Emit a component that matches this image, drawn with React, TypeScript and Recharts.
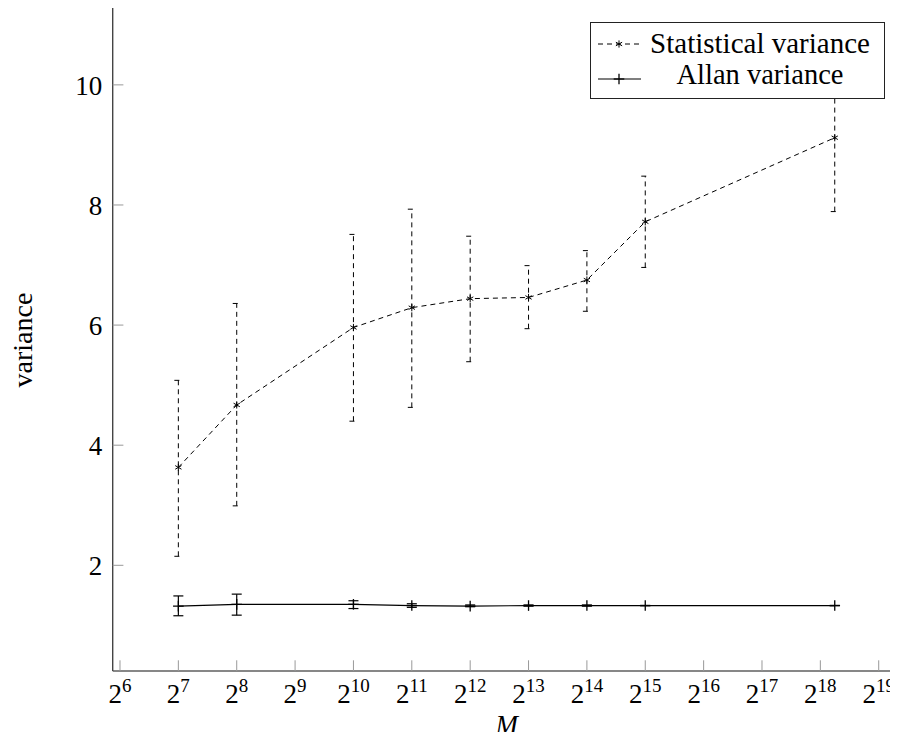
import React from 'react';
import { LineChart, Line, XAxis, YAxis, ErrorBar, Legend } from 'recharts';

const FONT = "'Liberation Serif', 'Times New Roman', serif";

// block sizes M (last run is not a power of two)
const mValues = [128, 256, 1024, 2048, 4096, 8192, 16384, 32768, 311000];

const statMean = [3.63, 4.67, 5.96, 6.29, 6.44, 6.46, 6.75, 7.72, 9.12];
const statLow = [2.15, 2.99, 4.4, 4.63, 5.39, 5.94, 6.23, 6.96, 7.89];
const statHigh = [5.08, 6.36, 7.51, 7.93, 7.48, 6.99, 7.24, 8.48, 10.36];

const allanMean = [1.32, 1.35, 1.35, 1.33, 1.32, 1.33, 1.33, 1.33, 1.33];
const allanLow = [1.16, 1.17, 1.28, 1.3, 1.31, 1.32, 1.32, 1.33, 1.33];
const allanHigh = [1.49, 1.52, 1.41, 1.36, 1.34, 1.34, 1.34, 1.33, 1.33];

const xTicks = [64, 128, 256, 512, 1024, 2048, 4096, 8192, 16384, 32768, 65536, 131072, 262144, 524288];
const yTicks = [2, 4, 6, 8, 10];

const data = mValues.map((m, i) => ({
  m,
  stat: statMean[i],
  statErr: [statMean[i] - statLow[i], statHigh[i] - statMean[i]],
  allan: allanMean[i],
  allanErr: [allanMean[i] - allanLow[i], allanHigh[i] - allanMean[i]],
}));

const X_DOMAIN = [Math.pow(2, 5.875), Math.pow(2, 19.375)];
const Y_DOMAIN = [0.24, 11.28];
const TICK_LEN = 10.7;
const TICK_COLOR = '#999';
const textStyle = { fontFamily: FONT };

function BottomTick({ x, y, payload }: any) {
  const exp = Math.round(Math.log2(payload.value));
  return (
    <g>
      <line x1={x} x2={x} y1={y} y2={y - TICK_LEN} stroke={TICK_COLOR} />
      <text x={x} y={y + 32.3} textAnchor="middle" style={textStyle} fontSize={27} fill="#000">
        2<tspan dy={-11} fontSize={19}>{exp}</tspan>
      </text>
    </g>
  );
}

function TopTick({ x, y }: any) {
  return <line x1={x} x2={x} y1={y} y2={y + TICK_LEN} stroke={TICK_COLOR} />;
}

function LeftTick({ x, y, payload }: any) {
  return (
    <g>
      <line x1={x} x2={x + TICK_LEN} y1={y} y2={y} stroke={TICK_COLOR} />
      <text x={x - 10.4} y={y + 9.7} textAnchor="end" style={textStyle} fontSize={27} fill="#000">
        {payload.value}
      </text>
    </g>
  );
}

function RightTick({ x, y }: any) {
  return <line x1={x} x2={x - TICK_LEN} y1={y} y2={y} stroke={TICK_COLOR} />;
}

function StarDot({ cx, cy }: any) {
  const r = 3.6;
  const dx = r * 0.87;
  const dy = r * 0.5;
  return (
    <g stroke="#000" strokeWidth={1}>
      <line x1={cx} x2={cx} y1={cy - r} y2={cy + r} />
      <line x1={cx - dx} x2={cx + dx} y1={cy - dy} y2={cy + dy} />
      <line x1={cx - dx} x2={cx + dx} y1={cy + dy} y2={cy - dy} />
    </g>
  );
}

function PlusDot({ cx, cy }: any) {
  const r = 5.3;
  return (
    <g stroke="#000" strokeWidth={1.3}>
      <line x1={cx - r} x2={cx + r} y1={cy} y2={cy} />
      <line x1={cx} x2={cx} y1={cy - r} y2={cy + r} />
    </g>
  );
}

function LegendBox() {
  return (
    <div
      style={{
        width: 295,
        height: 77,
        boxSizing: 'border-box',
        border: '1.3px solid #222',
        background: '#fff',
      }}
    >
      <svg width={292} height={74} style={{ display: 'block' }}>
        <line x1={7} x2={48} y1={21} y2={21} stroke="#000" strokeDasharray="5 4" />
        <StarDot cx={28} cy={21} />
        <text x={169} y={29.5} textAnchor="middle" style={textStyle} fontSize={29}>
          Statistical variance
        </text>
        <line x1={7} x2={50} y1={56} y2={56} stroke="#000" strokeWidth={1.2} />
        <PlusDot cx={28} cy={56} />
        <text x={169} y={61} textAnchor="middle" style={textStyle} fontSize={28.5}>
          Allan variance
        </text>
      </svg>
    </div>
  );
}

export default function App() {
  return (
    <div style={{ position: 'relative', width: 890, height: 724, fontFamily: FONT }}>
      {/* the plot's right edge runs just past the page edge, as in the source figure */}
      <LineChart
        width={890}
        height={724}
        data={data}
        margin={{ top: 0, right: -2.6, bottom: 1, left: 44.7 }}
      >
        <XAxis
          dataKey="m"
          type="number"
          scale="log"
          domain={X_DOMAIN}
          allowDataOverflow
          ticks={xTicks}
          interval={0}
          height={60}
          tickSize={0}
          tickMargin={0}
          tick={<BottomTick />}
          axisLine={{ stroke: '#111', strokeWidth: 1.2 }}
        />
        <XAxis
          xAxisId="top"
          orientation="top"
          dataKey="m"
          type="number"
          scale="log"
          domain={X_DOMAIN}
          allowDataOverflow
          ticks={xTicks}
          interval={0}
          height={0}
          tickSize={0}
          tickMargin={0}
          tick={<TopTick />}
          axisLine={{ stroke: '#111', strokeWidth: 1.2 }}
        />
        <YAxis
          type="number"
          domain={Y_DOMAIN}
          allowDataOverflow
          ticks={yTicks}
          interval={0}
          width={60}
          tickSize={0}
          tickMargin={0}
          tick={<LeftTick />}
          axisLine={{ stroke: '#444', strokeWidth: 1.4 }}
        />
        <YAxis
          yAxisId="right"
          orientation="right"
          type="number"
          domain={Y_DOMAIN}
          allowDataOverflow
          ticks={yTicks}
          interval={0}
          width={0}
          tickSize={0}
          tickMargin={0}
          tick={<RightTick />}
          axisLine={{ stroke: '#111' }}
        />
        <Line
          dataKey="stat"
          type="linear"
          stroke="#000"
          strokeWidth={1}
          strokeDasharray="5 4"
          dot={(p: any) => <StarDot key={`s${p.index}`} cx={p.cx} cy={p.cy} />}
          activeDot={false}
          isAnimationActive={false}
        >
          <ErrorBar
            dataKey="statErr"
            direction="y"
            width={4}
            stroke="#000"
            strokeWidth={1}
            strokeDasharray="5 4"
            isAnimationActive={false}
          />
        </Line>
        <Line
          dataKey="allan"
          type="linear"
          stroke="#000"
          strokeWidth={1.2}
          dot={(p: any) => <PlusDot key={`a${p.index}`} cx={p.cx} cy={p.cy} />}
          activeDot={false}
          isAnimationActive={false}
        >
          <ErrorBar
            dataKey="allanErr"
            direction="y"
            width={5}
            stroke="#000"
            strokeWidth={1.2}
            isAnimationActive={false}
          />
        </Line>
        <Legend
          layout="vertical"
          align="center"
          verticalAlign="middle"
          wrapperStyle={{ left: 582, top: 13.7, width: 295, height: 77 }}
          content={() => <LegendBox />}
        />
      </LineChart>
      {/* axis titles, in page coordinates */}
      <svg
        width={898}
        height={740}
        style={{ position: 'absolute', left: -8, top: -8, pointerEvents: 'none' }}
      >
        <text
          transform="translate(22 340) rotate(-90)"
          textAnchor="middle"
          dominantBaseline="central"
          style={textStyle}
          fontSize={28}
        >
          variance
        </text>
        <text x={506.7} y={734} textAnchor="middle" style={textStyle} fontSize={27} fontStyle="italic">
          M
        </text>
      </svg>
    </div>
  );
}
